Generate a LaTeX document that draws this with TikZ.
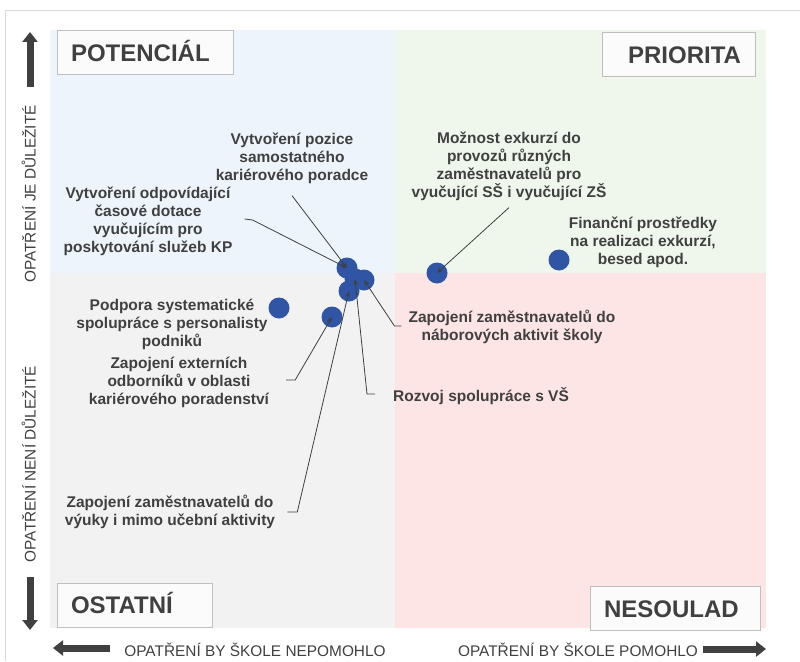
\documentclass[tikz,border=0pt]{standalone}
\usepackage{fontspec}
\setmainfont{Liberation Sans}
\usetikzlibrary{arrows.meta, positioning, calc}
\definecolor{tmave}{RGB}{64,64,64}
\definecolor{ramec}{RGB}{217,217,217}
\definecolor{stitekram}{RGB}{191,191,191}
\definecolor{stitekfill}{RGB}{251,251,251}
\definecolor{polemodre}{RGB}{237,244,251}
\definecolor{polezelene}{RGB}{239,246,236}
\definecolor{poleseda}{RGB}{242,242,242}
\definecolor{poleruzove}{RGB}{253,228,229}
\definecolor{bodmodra}{RGB}{47,85,164}
\tikzset{
    %Define standard arrow tip
    >={Stealth[length=6pt, width=4.5pt]},
    %Define style for quadrant titles
    stitek/.style={
           rectangle,
           draw=stitekram, fill=stitekfill, line width=0.8pt,
           inner xsep=14pt,
           minimum height=44pt,
           text height=17.5pt, text depth=0pt,
           text=tmave,
           font=\fontsize{24}{28}\selectfont\bfseries},
    % Define style for labels
    popis/.style={
           align=center,
           inner sep=0pt,
           text=tmave,
           font=\fontsize{15.5}{18}\selectfont\bfseries},
    % Define style for axis texts
    osa/.style={
           inner sep=0pt,
           text height=11pt, text depth=0pt,
           text=tmave,
           font=\fontsize{15.4}{18}\selectfont},
    % Define style for dots
    bod/.style={
           circle,
           fill=bodmodra,
           minimum size=21pt,
           inner sep=0pt},
    % Define arrow style
    pil/.style={
           ->,
           draw=tmave,
           line width=0.8pt},
    % Define thick axis arrows
    sipka/.style={
           -{Triangle[width=15pt, length=10pt]},
           draw=tmave,
           line width=7pt}
}
\begin{document}
\begin{tikzpicture}[x=1pt, y=-1pt]
	\useasboundingbox (0,0) rectangle (800,661);
	%
	% pole
	%
	\draw[ramec, line width=1pt] (5,661) -- (5,11) -- (800,11);
	\fill[polemodre] (50,30) rectangle (395,273);
	\fill[polezelene] (395,30) rectangle (766,273);
	\fill[poleseda] (50,273) rectangle (395,628);
	\fill[poleruzove] (395,273) rectangle (766,628);
	%
	% stitky
	%
	\node[stitek, text width=148pt, align=left] (potencial) at (145,52.5) {POTENCIÁL};
	\node[stitek, text width=125pt, align=right] (priorita) at (678.5,54.5) {PRIORITA};
	\node[stitek, text width=127pt, align=left] (ostatni) at (134.5,605) {OSTATNÍ};
	\node[stitek, text width=142pt, align=left] (nesoulad) at (675,608.5) {NESOULAD};
	%
	% osy
	%
	\node[osa, rotate=90] (jeDulezite) at (30,194) {OPATŘENÍ JE DŮLEŽITÉ};
	\node[osa, rotate=90] (neniDulezite) at (30,464) {OPATŘENÍ NENÍ DŮLEŽITÉ};
	\node[osa] (nepomohlo) at (255,651) {OPATŘENÍ BY ŠKOLE NEPOMOHLO};
	\node[osa] (pomohlo) at (578,651) {OPATŘENÍ BY ŠKOLE POMOHLO};
	\draw[sipka] (30,87) -- (30,32);
	\draw[sipka] (30,577) -- (30,630);
	\draw[sipka] (110,648) -- (53,648);
	\draw[sipka] (703,649) -- (766,649);
	%
	% body
	%
	\node[bod] (dA) at (347,268) {};
	\node[bod] (dD) at (355,279) {};
	\node[bod] (dB) at (364,280) {};
	\node[bod] (dC) at (349,291) {};
	\node[bod] (dE) at (332,317) {};
	\node[bod] (dF) at (279,308) {};
	\node[bod] (dG) at (437,273) {};
	\node[bod] (dH) at (559,260) {};
	%
	% popisy
	%
	\node[popis] (pozice) at (292,158) {Vytvoření pozice\\samostatného\\kariérového poradce};
	\node[popis] (dotace) at (148,221) {Vytvoření odpovídající\\časové dotace\\vyučujícím pro\\poskytování služeb KP};
	\node[popis] (podpora) at (172,324) {Podpora systematické\\spolupráce s personalisty\\podniků};
	\node[popis] (externi) at (179,382) {Zapojení externích\\odborníků v oblasti\\kariérového poradenství};
	\node[popis] (vyuka) at (170,512) {Zapojení zaměstnavatelů do\\výuky i mimo učební aktivity};
	\node[popis] (exkurze) at (509,166) {Možnost exkurzí do\\provozů různých\\zaměstnavatelů pro\\vyučující SŠ i vyučující ZŠ};
	\node[popis] (finance) at (643,242) {Finanční prostředky\\na realizaci exkurzí,\\besed apod.};
	\node[popis] (nabor) at (512,327) {Zapojení zaměstnavatelů do\\náborových aktivit školy};
	\node[popis, anchor=west] (rozvoj) at (393,396) {Rozvoj spolupráce s VŠ};
	%
	% Spojnice
	%
	\draw[pil] ([yshift=-12pt]pozice.south) -- (dA.center);
	\draw[pil] ([xshift=12pt, yshift=2pt]dotace.east) -- ++(8,1) -- (dA.center);
	\draw[pil] ([yshift=-7pt]exkurze.south) -- (dG.center);
	\draw[pil] ([xshift=-7pt, yshift=1pt]nabor.west) -- ++(-7,0) -- (dB.center);
	\draw[pil] ([xshift=-18pt, yshift=2pt]rozvoj.west) -- ++(-8,0) -- (dD.center);
	\draw[pil] ([xshift=12pt]vyuka.east) -- ++(10,0) -- (dC.center);
	\draw[pil] ([xshift=17pt, yshift=2pt]externi.east) -- ++(9,0) -- (dE.center);
	%\draw[pil] (podpora) -- (dF);
\end{tikzpicture}
\end{document}
